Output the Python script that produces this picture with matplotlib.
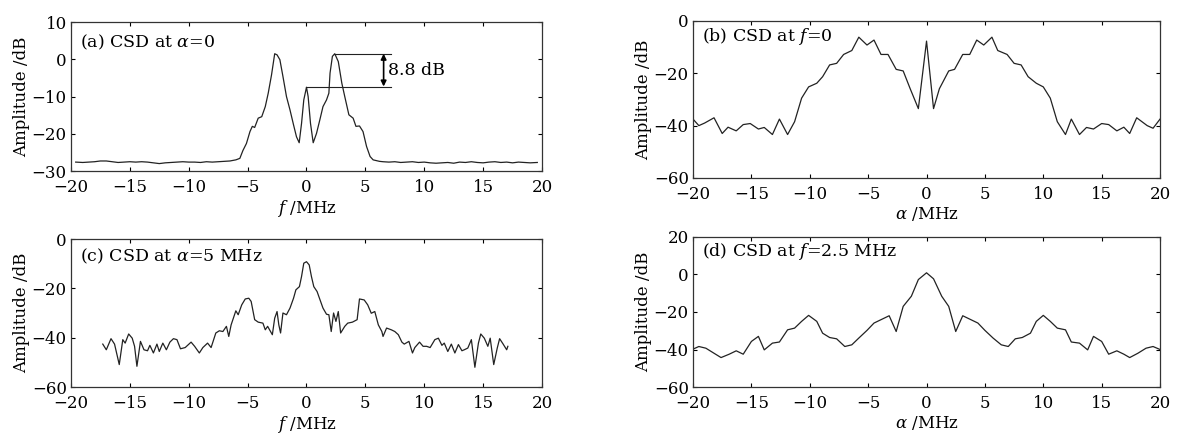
import matplotlib
matplotlib.use("Agg")
import matplotlib.pyplot as plt

plt.rcParams['font.family'] = 'DejaVu Serif'
plt.rcParams['mathtext.fontset'] = 'dejavuserif'
plt.rcParams['font.size'] = 12

# (a) CSD at alpha = 0
fa_x = [-19.6, -19.0, -18.5, -18.0, -17.5, -17.0, -16.5, -16.0, -15.5, -15.0, -14.5, -14.0,
        -13.5, -13.0, -12.5, -12.0, -11.5, -11.0, -10.5, -10.0, -9.5, -9.0, -8.5, -8.0,
        -7.5, -7.0, -6.5, -6.0, -5.66, -5.4, -5.1, -4.8, -4.6, -4.4, -4.1, -3.8, -3.5,
        -3.25, -2.97, -2.7, -2.5, -2.26, -2.0, -1.7, -1.4, -1.1, -0.85, -0.62, -0.42,
        -0.23, 0.0, 0.14, 0.34, 0.57, 0.85, 1.13, 1.4, 1.7, 1.9, 2.0, 2.2, 2.4, 2.7,
        3.0, 3.25, 3.6, 3.96, 4.2, 4.5, 4.8, 5.1, 5.4, 5.66, 6.2, 6.5, 7.0, 7.5, 8.0,
        8.5, 9.0, 9.5, 10.0, 10.5, 11.0, 11.5, 12.0, 12.5, 13.0, 13.5, 14.0, 14.5, 15.0,
        15.5, 16.0, 16.5, 17.0, 17.5, 18.0, 18.5, 19.0, 19.6]
fa_y = [-27.6, -27.7, -27.6, -27.5, -27.3, -27.3, -27.5, -27.7, -27.6, -27.5, -27.6, -27.5,
        -27.6, -27.8, -28.0, -27.8, -27.7, -27.6, -27.5, -27.6, -27.6, -27.7, -27.5, -27.6,
        -27.5, -27.4, -27.3, -27.0, -26.6, -24.5, -22.6, -19.4, -18.0, -18.3, -15.8, -15.4,
        -12.7, -9.1, -4.2, 1.5, 1.2, -0.1, -4.6, -10.0, -13.6, -17.6, -20.8, -22.4,
        -17.2, -10.9, -7.5, -10.0, -17.2, -22.4, -19.9, -16.3, -12.7, -10.9, -9.1, -3.7,
        0.8, 1.5, -0.6, -6.4, -10.0, -14.9, -15.8, -18.0, -17.9, -19.4, -23.4, -26.1,
        -27.0, -27.4, -27.5, -27.6, -27.5, -27.7, -27.6, -27.5, -27.7, -27.6, -27.8, -27.9,
        -27.8, -27.7, -27.9, -27.6, -27.7, -27.5, -27.7, -27.8, -27.6, -27.5, -27.7, -27.6,
        -27.8, -27.6, -27.7, -27.8, -27.7]

# (b) CSD at f = 0
ab_x = [-20.0, -19.5, -19.0, -18.2, -17.5, -17.0, -16.3, -15.7, -15.1, -14.4, -13.9, -13.2,
        -12.6, -11.9, -11.3, -10.7, -10.1, -9.4, -8.9, -8.3, -7.7, -7.1, -6.4, -5.8, -5.1,
        -4.5, -3.9, -3.3, -2.6, -2.0, -1.4, -0.7, 0.0, 0.6, 1.1, 1.9, 2.4, 3.1, 3.7, 4.3,
        4.9, 5.6, 6.1, 6.9, 7.5, 8.1, 8.7, 9.4, 10.0, 10.6, 11.2, 11.9, 12.4, 13.1, 13.7,
        14.3, 15.0, 15.6, 16.3, 16.9, 17.4, 18.0, 18.9, 19.4, 20.0]
ab_y = [-37.5, -40.0, -39.0, -37.0, -43.0, -40.6, -42.0, -39.6, -39.2, -41.3, -40.7, -43.4,
        -37.5, -43.4, -38.5, -29.5, -25.2, -23.8, -21.3, -16.8, -16.2, -12.8, -11.3, -6.2,
        -9.2, -7.3, -12.8, -12.8, -18.5, -19.1, -25.9, -33.5, -7.7, -33.5, -25.9, -19.1,
        -18.5, -12.8, -12.8, -7.3, -9.2, -6.2, -11.3, -12.8, -16.2, -16.8, -21.3, -23.8,
        -25.2, -29.5, -38.5, -43.4, -37.5, -43.4, -40.7, -41.3, -39.2, -39.6, -42.0, -40.6,
        -43.0, -37.0, -40.0, -41.0, -37.5]

# (c) CSD at alpha = 5 MHz
fc_x = [-17.3, -17.0, -16.6, -16.3, -15.9, -15.6, -15.4, -15.1, -14.8, -14.6, -14.4, -14.1,
        -13.8, -13.5, -13.3, -13.0, -12.7, -12.5, -12.2, -11.9, -11.6, -11.3, -11.0, -10.7,
        -10.3, -9.8, -9.5, -9.1, -8.8, -8.4, -8.1, -7.7, -7.4, -7.1, -6.8, -6.6, -6.4,
        -6.0, -5.8, -5.5, -5.2, -4.9, -4.7, -4.4, -4.1, -3.7, -3.5, -3.3, -2.9, -2.7,
        -2.5, -2.35, -2.2, -2.0, -1.7, -1.4, -1.1, -0.9, -0.6, -0.42, -0.23, 0.0, 0.23,
        0.42, 0.62, 0.9, 1.1, 1.4, 1.7, 1.9, 2.1, 2.3, 2.5, 2.7, 2.9, 3.25, 3.5, 3.9, 4.3,
        4.5, 4.9, 5.2, 5.5, 5.8, 6.1, 6.4, 6.5, 6.8, 7.2, 7.5, 7.8, 8.1, 8.3, 8.7, 9.0,
        9.2, 9.6, 9.9, 10.2, 10.5, 10.9, 11.2, 11.5, 11.7, 12.0, 12.3, 12.6, 12.9, 13.2,
        13.4, 13.7, 14.0, 14.3, 14.6, 14.8, 15.1, 15.4, 15.6, 15.9, 16.2, 16.4, 16.7, 17.0,
        17.1]
fc_y = [-42.6, -44.9, -40.4, -42.6, -50.9, -40.8, -42.2, -38.5, -40.2, -43.5, -51.6, -41.5,
        -44.9, -45.3, -43.1, -46.2, -42.6, -45.6, -42.2, -44.9, -41.8, -40.4, -40.8, -44.5,
        -44.0, -41.8, -43.5, -46.2, -44.0, -42.2, -44.0, -38.1, -37.2, -37.5, -35.4, -39.5,
        -34.8, -29.1, -30.7, -26.7, -24.3, -24.0, -25.3, -32.7, -33.7, -34.1, -36.8, -35.4,
        -38.8, -32.1, -29.4, -34.8, -38.1, -30.0, -30.7, -28.0, -24.0, -20.6, -19.3, -15.2,
        -9.8, -9.2, -10.5, -15.2, -19.3, -21.3, -24.0, -28.0, -30.5, -30.7, -37.5, -30.0,
        -33.4, -29.4, -38.1, -35.4, -34.1, -33.7, -32.7, -24.3, -24.7, -26.7, -30.1, -29.4,
        -34.8, -37.5, -39.5, -36.1, -36.8, -37.5, -38.8, -41.8, -42.6, -41.5, -46.2, -44.0,
        -41.8, -43.5, -43.5, -44.0, -40.8, -40.2, -43.1, -42.2, -45.6, -42.6, -46.2, -42.8,
        -45.3, -44.9, -44.2, -40.8, -52.0, -42.2, -38.5, -40.2, -43.5, -40.2, -50.9, -44.2,
        -40.4, -42.6, -44.9, -43.5]

# (d) CSD at f = 2.5 MHz
ad_x = [-20.0, -19.5, -18.9, -18.2, -17.6, -16.9, -16.3, -15.7, -15.0, -14.4, -13.9, -13.2,
        -12.6, -11.9, -11.3, -10.7, -10.1, -9.4, -8.9, -8.3, -7.7, -7.0, -6.4, -5.8, -5.1,
        -4.5, -3.9, -3.2, -2.6, -2.0, -1.3, -0.7, 0.0, 0.6, 1.3, 1.9, 2.5, 3.1, 3.8, 4.4,
        5.0, 5.7, 6.4, 7.0, 7.6, 8.2, 8.9, 9.4, 10.0, 10.6, 11.2, 11.9, 12.4, 13.1, 13.8,
        14.3, 15.0, 15.6, 16.3, 16.9, 17.4, 18.1, 18.8, 19.4, 20.0]
ad_y = [-39.8, -38.4, -39.3, -42.0, -44.3, -42.5, -40.7, -42.5, -35.7, -33.0, -40.2, -36.6,
        -36.0, -29.5, -28.6, -25.0, -21.8, -25.0, -31.3, -33.6, -34.3, -38.4, -37.5, -33.9,
        -29.8, -25.9, -24.1, -22.0, -30.4, -17.0, -11.6, -2.7, 0.9, -2.3, -11.6, -17.0,
        -30.4, -22.0, -24.1, -25.9, -29.8, -33.9, -37.5, -38.4, -34.3, -33.6, -31.3, -25.0,
        -21.8, -25.0, -28.6, -29.5, -36.0, -36.6, -40.2, -33.0, -35.7, -42.5, -40.7, -42.5,
        -44.3, -42.0, -39.3, -38.4, -40.0]

xticks = [-20, -15, -10, -5, 0, 5, 10, 15, 20]
line_kw = dict(color='#222222', lw=0.9)

fig = plt.figure(figsize=(11.77, 4.33), dpi=100)
ax_a = fig.add_axes([0.0603, 0.605, 0.4002, 0.344])
ax_b = fig.add_axes([0.5888, 0.589, 0.3968, 0.3626])
ax_c = fig.add_axes([0.0603, 0.1062, 0.4002, 0.3418])
ax_d = fig.add_axes([0.5888, 0.1062, 0.3968, 0.3465])

ax_a.plot(fa_x, fa_y, **line_kw)
ax_a.set_ylim(-30, 10)
ax_a.set_yticks([-30, -20, -10, 0, 10])
ax_a.set_xlabel('$f$ /MHz', labelpad=1)
ax_a.text(0.02, 0.93, r'(a) CSD at $\alpha$=0', transform=ax_a.transAxes, va='top',
          fontsize=12.5)
# 8.8 dB marker
ax_a.plot([2.4, 7.2], [1.5, 1.5], color='#222222', lw=0.8)
ax_a.plot([0.0, 7.2], [-7.3, -7.3], color='#222222', lw=0.8)
ax_a.annotate('', xy=(6.55, 1.5), xytext=(6.55, -7.3),
              arrowprops=dict(arrowstyle='<|-|>', color='black', lw=1.2,
                              mutation_scale=8, shrinkA=0, shrinkB=0))
ax_a.text(6.9, -2.9, '8.8 dB', va='center', fontsize=12.5)

ax_b.plot(ab_x, ab_y, **line_kw)
ax_b.set_ylim(-60, 0)
ax_b.set_yticks([-60, -40, -20, 0])
ax_b.set_xlabel(r'$\alpha$ /MHz', labelpad=1)
ax_b.text(0.02, 0.97, '(b) CSD at $f$=0', transform=ax_b.transAxes, va='top',
          fontsize=12.5)

ax_c.plot(fc_x, fc_y, **line_kw)
ax_c.set_ylim(-60, 0)
ax_c.set_yticks([-60, -40, -20, 0])
ax_c.set_xlabel('$f$ /MHz', labelpad=1)
ax_c.text(0.02, 0.95, r'(c) CSD at $\alpha$=5 MHz', transform=ax_c.transAxes, va='top',
          fontsize=12.5)

ax_d.plot(ad_x, ad_y, **line_kw)
ax_d.set_ylim(-60, 20)
ax_d.set_yticks([-60, -40, -20, 0, 20])
ax_d.set_xlabel(r'$\alpha$ /MHz', labelpad=1)
ax_d.text(0.02, 0.97, '(d) CSD at $f$=2.5 MHz', transform=ax_d.transAxes, va='top',
          fontsize=12.5)

for ax in (ax_a, ax_b, ax_c, ax_d):
    ax.set_xlim(-20, 20)
    ax.set_xticks(xticks)
    ax.set_ylabel('Amplitude /dB', labelpad=1)
    ax.tick_params(direction='in', top=True, right=True, length=3, width=0.8)
    ax.tick_params(axis='x', pad=6)
    ax.tick_params(axis='y', pad=3)
    for s in ax.spines.values():
        s.set_linewidth(0.9)
        s.set_color('#333333')

fig.savefig('out.png', dpi=100)
